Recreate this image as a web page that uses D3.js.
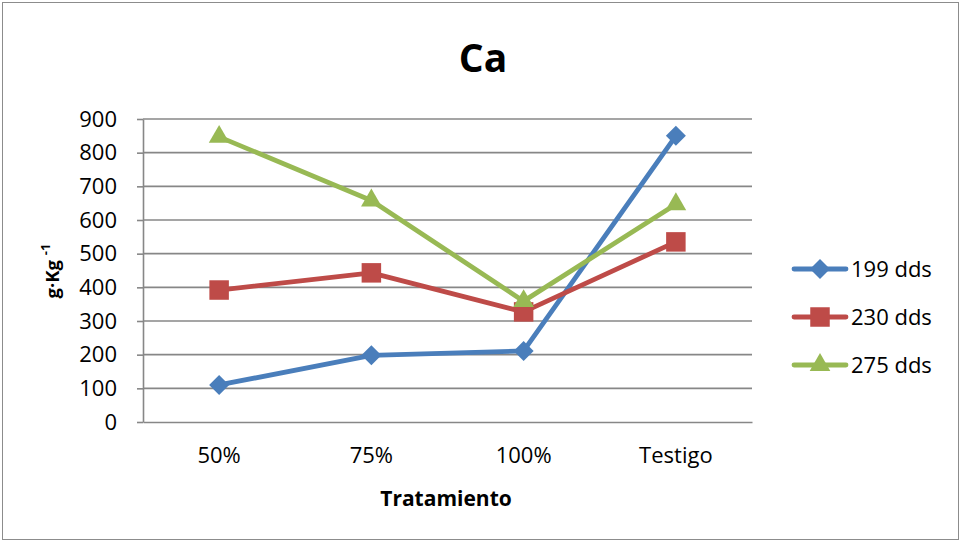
<!DOCTYPE html>
<html><head><meta charset="utf-8">
<script src="https://cdn.jsdelivr.net/npm/d3@7"></script>
<style>body{margin:0;background:#fff}svg{display:block}text{font-family:"Open Sans",Lato,sans-serif}</style>
</head><body><svg id="c" width="963" height="543"></svg>
<script>
const categories = ["50%", "75%", "100%", "Testigo"];
const seriesNames = ["199 dds", "230 dds", "275 dds"];
const s199 = [110, 198, 211, 850];
const s230 = [392, 443, 327, 535];
const s275 = [847, 658, 359, 647];
const yTicks = [0,100,200,300,400,500,600,700,800,900];
const colors = ["#4A7EBB", "#BE4B48", "#98B954"];
const symbols = [d3.symbolSquare, d3.symbolSquare, d3.symbolTriangle];
const symSizes = [200, 380, 185];
const symRot = [45, 0, 0];
const series = [s199, s230, s275];

const svg = d3.select("#c");
svg.append("rect").attr("x",2.5).attr("y",2.5).attr("width",956).attr("height",537)
  .attr("fill","#fff").attr("stroke","#8c8c8c").attr("stroke-width",1);

const L=143, R=752, T=119, B=422;
const x = d3.scaleBand().domain(categories).range([L,R]);
const y = d3.scaleLinear().domain([0,900]).range([B,T]);

// gridlines
svg.append("g").selectAll("line").data(yTicks.filter(d=>d>0)).join("line")
  .attr("x1",L).attr("x2",R).attr("y1",d=>y(d)).attr("y2",d=>y(d))
  .attr("stroke","#878787").attr("stroke-width",1.6);

// y axis
const ya = svg.append("g").attr("transform",`translate(${L},0)`)
  .call(d3.axisLeft(y).tickValues(yTicks).tickSize(6).tickPadding(20).tickSizeOuter(0));
ya.select(".domain").attr("stroke","#878787").attr("stroke-width",1.6);
ya.selectAll(".tick line").attr("stroke","#878787").attr("stroke-width",1.6);
ya.selectAll("text").attr("font-size",22).attr("fill","#000").attr("font-family",null);

// x axis
const xa = svg.append("g").attr("transform",`translate(0,${B})`)
  .call(d3.axisBottom(x).tickSize(0).tickPadding(25).tickSizeOuter(0));
xa.select(".domain").attr("stroke","#878787").attr("stroke-width",1.6);
xa.selectAll("text").attr("font-size",22).attr("fill","#000").attr("font-family",null);

// lines
const cx = i => x(categories[i]) + x.bandwidth()/2;
const line = d3.line().x((d,i)=>cx(i)).y(d=>y(d));
series.forEach((s,k)=>{
  svg.append("path").datum(s).attr("d",line).attr("fill","none")
    .attr("stroke",colors[k]).attr("stroke-width",4.8).attr("stroke-linejoin","round");
});
series.forEach((s,k)=>{
  svg.append("g").selectAll("path").data(s).join("path")
    .attr("d",d3.symbol().type(symbols[k]).size(symSizes[k]))
    .attr("transform",(d,i)=>`translate(${cx(i)},${y(d)}) rotate(${symRot[k]})`)
    .attr("fill",colors[k]);
});

// title
svg.append("text").attr("x",483).attr("y",72).attr("text-anchor","middle")
  .attr("font-size",39).attr("font-weight","bold").text("Ca");

// x title
svg.append("text").attr("x",446).attr("y",506).attr("text-anchor","middle")
  .attr("font-size",21).attr("font-weight","bold").text("Tratamiento");

// y title
const yt = svg.append("text").attr("transform","translate(59,271) rotate(-90)")
  .attr("text-anchor","middle").attr("font-size",18.5).attr("font-weight","bold");
yt.append("tspan").text("g·Kg ");
yt.append("tspan").attr("font-size",13).attr("dy",-9).text("-1");

// legend
const lg = svg.append("g");
seriesNames.forEach((n,k)=>{
  const yy = 269 + k*48;
  lg.append("line").attr("x1",794).attr("x2",846).attr("y1",yy).attr("y2",yy)
    .attr("stroke",colors[k]).attr("stroke-width",4.8).attr("stroke-linecap","round");
  lg.append("path").attr("d",d3.symbol().type(symbols[k]).size(symSizes[k]))
    .attr("transform",`translate(820,${yy}) rotate(${symRot[k]})`).attr("fill",colors[k]);
  lg.append("text").attr("x",851).attr("y",yy+8).attr("font-size",22).text(n);
});
</script></body></html>
